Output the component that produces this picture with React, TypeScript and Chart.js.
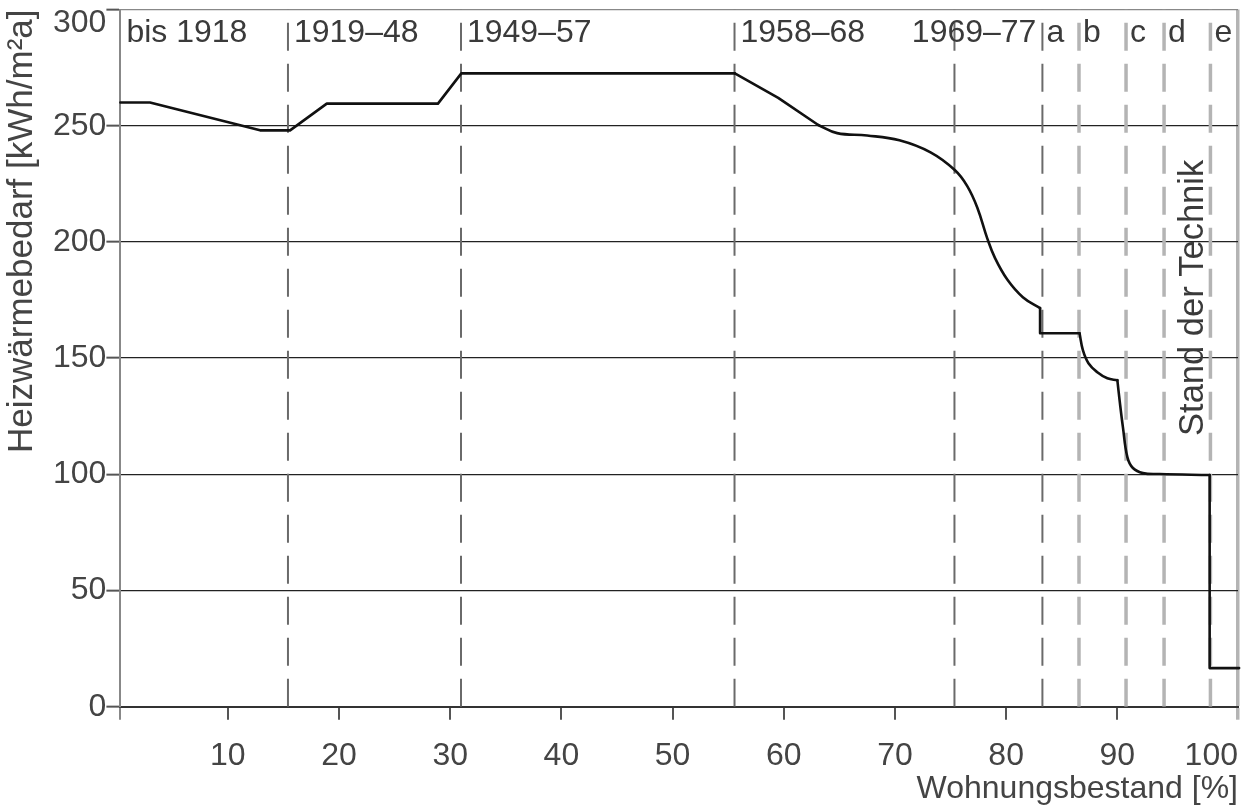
import React, { useEffect, useRef } from 'react';
import { Chart, registerables } from 'chart.js';

Chart.register(...registerables);

const FONT = "'Liberation Sans', Arial, Helvetica, sans-serif";

// Heizwärmebedarf curve (x = Wohnungsbestand %, y = kWh/m²a)
const curveX = [0.34, 3.0, 12.9, 15.6, 18.9, 28.9, 31.0, 55.6, 59.5, 63.1, 64.8, 67.5, 70.4, 73.2, 75.4, 76.5, 77.4, 78.3, 79.0, 80.1, 81.5, 83.05, 83.05, 86.6, 86.9, 87.4, 88.2, 89.1, 90.0, 90.2, 90.5, 90.9, 91.4, 92.3, 93.8, 98.3, 98.3, 100.95, 100.95];
const curveY = [260, 260, 248, 248, 259.5, 259.5, 272.5, 272.5, 262.0, 250.3, 246.8, 245.8, 243.7, 238.5, 230.8, 224.0, 214.8, 201.5, 193.0, 183.8, 176.2, 171.5, 160.7, 160.7, 153.4, 147.8, 143.9, 141.3, 140.5, 131.9, 120.3, 107.4, 102.7, 100.5, 100.1, 99.7, 16.6, 16.6, 0];

// how the curve points are joined: [first index, last index, smooth?]
const curveSegments: [number, number, boolean][] = [
  [0, 7, false],
  [7, 9, false],
  [9, 21, true],
  [21, 23, false],
  [23, 28, true],
  [28, 35, true],
  [35, 38, false],
];

// Building age classes and their start positions on the x axis
const periodNames = ['bis 1918', '1919–48', '1949–57', '1958–68', '1969–77', 'a', 'b', 'c', 'd', 'e'];
const periodStarts = [0.34, 15.41, 30.97, 55.57, 75.35, 83.26, 86.55, 90.78, 94.2, 98.37];
const lightPeriods = ['b', 'c', 'd', 'e'];

const standLabel = 'Stand der Technik';
const standLabelY = 116.5;

const X_MIN = 0.34;
const X_MAX = 100.85;
const xTickValues = [X_MIN, 10, 20, 30, 40, 50, 60, 70, 80, 90, X_MAX];
const xTickLabels = ['', '10', '20', '30', '40', '50', '60', '70', '80', '90', '100'];

const Y_MIN = 0;
const Y_MAX = 300;
const yTickValues = [0, 50, 100, 150, 200, 250, 300];
const yTickLabels = ['0', '50', '100', '150', '200', '250', '300'];

const xTitle = 'Wohnungsbestand [%]';
const yTitle = 'Heizwärmebedarf [kWh/m²a]';

const TEXT = '#444';

export default function App() {
  const canvasRef = useRef<HTMLCanvasElement | null>(null);

  useEffect(() => {
    const canvas = canvasRef.current;
    if (!canvas) return;

    const curveSets = curveSegments.map(([a, b, smooth], k) => ({
      type: 'line' as const,
      label: 'Heizwärmebedarf ' + k,
      data: curveX.slice(a, b + 1).map((x, i) => ({ x, y: curveY[a + i] })),
      borderColor: '#111',
      borderWidth: 2.6,
      borderJoinStyle: 'round' as const,
      borderCapStyle: 'round' as const,
      pointRadius: 0,
      tension: smooth ? 0.4 : 0,
      clip: 6,
    }));

    const dividerSets = periodStarts.slice(1).map((s, i) => {
      const name = periodNames[i + 1];
      const light = lightPeriods.includes(name);
      return {
        type: 'line' as const,
        label: 'grenze ' + name,
        data: [
          { x: s, y: Y_MIN },
          { x: s, y: Y_MAX },
        ],
        borderColor: light ? '#b4b4b4' : '#6a6a6a',
        borderWidth: light ? 3.5 : 2,
        borderDash: [28, 13],
        borderCapStyle: 'butt' as const,
        pointRadius: 0,
        tension: 0,
      };
    });

    const labelPlugin = {
      id: 'periodLabels',
      afterDatasetsDraw(chart: any) {
        const { ctx, chartArea, scales } = chart;
        const xs = scales.x;
        const ys = scales.y;
        ctx.save();
        ctx.fillStyle = '#3a3a3a';
        ctx.font = `32px ${FONT}`;
        ctx.textBaseline = 'alphabetic';
        const baseY = chartArea.top + 32.5;
        periodNames.forEach((name, i) => {
          const start = xs.getPixelForValue(periodStarts[i]);
          const next = i + 1 < periodStarts.length ? xs.getPixelForValue(periodStarts[i + 1]) : chartArea.right;
          const w = ctx.measureText(name).width;
          const off = name.length > 1 ? 6 : 4;
          if (start + off + w > next) {
            ctx.textAlign = 'right';
            ctx.fillText(name, next - 6, baseY);
          } else {
            ctx.textAlign = 'left';
            ctx.fillText(name, start + off, baseY);
          }
        });
        // vertical label
        ctx.font = `34.5px ${FONT}`;
        const sx = xs.getPixelForValue(periodStarts[periodStarts.length - 1]) - 7;
        const sy = ys.getPixelForValue(standLabelY);
        ctx.translate(sx, sy);
        ctx.rotate(-Math.PI / 2);
        ctx.textAlign = 'left';
        ctx.fillText(standLabel, 0, 0);
        ctx.restore();
      },
    };

    const chart = new Chart(canvas, {
      type: 'line',
      data: {
        datasets: [...curveSets, ...dividerSets] as any,
      },
      options: {
        responsive: false,
        animation: false,
        devicePixelRatio: 1,
        layout: { padding: { left: 0, right: 10, top: 9.5, bottom: 0 } },
        plugins: {
          legend: { display: false },
          tooltip: { enabled: false },
        },
        scales: {
          x: {
            type: 'linear',
            min: X_MIN,
            max: X_MAX,
            afterBuildTicks: (s: any) => {
              s.ticks = xTickValues.map((v) => ({ value: v }));
            },
            afterFit: (s: any) => {
              s.height = 104.3;
              s.paddingLeft = 0;
              s.paddingRight = 0;
            },
            ticks: {
              autoSkip: false,
              maxRotation: 0,
              minRotation: 0,
              align: 'inner',
              padding: 17.6,
              color: TEXT,
              font: { family: FONT, size: 32 },
              callback: (_v: any, i: number) => xTickLabels[i],
            },
            grid: {
              drawOnChartArea: true,
              color: (c: any) => (c.index === xTickValues.length - 1 ? '#b4b4b4' : 'rgba(0,0,0,0)'),
              lineWidth: (c: any) => (c.index === xTickValues.length - 1 ? 3.5 : 2),
              tickLength: 13,
              tickColor: (c: any) =>
                c.index === xTickValues.length - 1 ? '#b4b4b4' : c.index === 0 ? '#888' : '#555',
              tickWidth: (c: any) => (c.index === xTickValues.length - 1 ? 3.5 : 2),
            },
            border: { display: true, color: '#333', width: 2 },
            title: {
              display: true,
              text: xTitle,
              align: 'end',
              color: TEXT,
              font: { family: FONT, size: 32 },
              padding: { top: 0, bottom: 3 },
            },
          },
          y: {
            type: 'linear',
            min: Y_MIN,
            max: Y_MAX,
            afterBuildTicks: (s: any) => {
              s.ticks = yTickValues.map((v) => ({ value: v }));
            },
            afterFit: (s: any) => {
              s.width = 120.4;
              s.paddingTop = 0;
              s.paddingBottom = 0;
            },
            ticks: {
              autoSkip: false,
              padding: 0,
              color: TEXT,
              font: (c: any) => ({
                family: FONT,
                size: 32,
                lineHeight: c.index === yTickValues.length - 1 ? 0.84 : 1.2,
              }),
              callback: (_v: any, i: number) =>
                i === yTickValues.length - 1 ? ['', yTickLabels[i]] : yTickLabels[i],
            },
            grid: {
              color: (c: any) => (c.index === yTickValues.length - 1 ? '#888' : '#222'),
              lineWidth: 1.3,
              tickLength: 14,
              tickColor: '#555',
              tickWidth: 2,
            },
            border: { display: true, color: '#888', width: 2 },
            title: {
              display: true,
              text: yTitle,
              align: 'end',
              color: TEXT,
              font: { family: FONT, size: 35 },
              padding: { top: 1, bottom: 0 },
            },
          },
        },
      } as any,
      plugins: [labelPlugin],
    });

    return () => chart.destroy();
  }, []);

  return (
    <div style={{ position: 'absolute', left: 0, top: 0, width: 1248, height: 811, background: '#fff' }}>
      <canvas ref={canvasRef} width={1248} height={811} style={{ display: 'block' }} />
    </div>
  );
}
